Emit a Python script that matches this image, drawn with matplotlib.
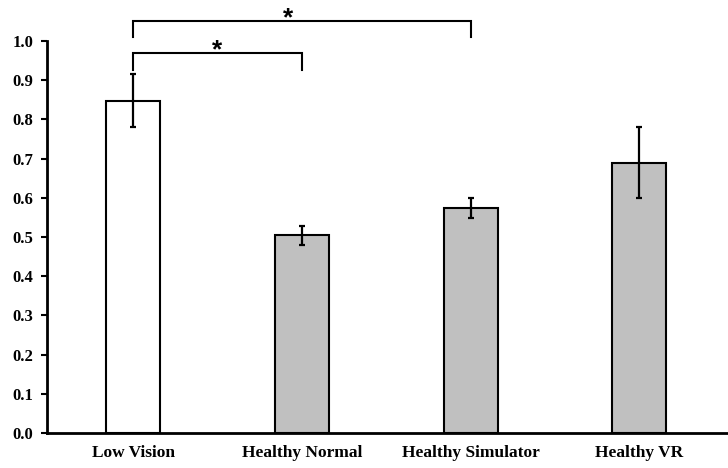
import matplotlib.pyplot as plt
import numpy as np

# Data
groups = ['Low Vision', 'Healthy Normal', 'Healthy Simulator', 'Healthy VR']
means = [0.848, 0.504, 0.574, 0.690]
errors = [0.068, 0.024, 0.025, 0.090]
fills = ['white', '#c0c0c0', '#c0c0c0', '#c0c0c0']
yticks = [0.0, 0.1, 0.2, 0.3, 0.4, 0.5, 0.6, 0.7, 0.8, 0.9, 1.0]

# Significance brackets: (left group, right group, bar height, drop end)
brackets = [(0, 1, 0.969, 0.926), (0, 2, 1.052, 1.010)]

fig = plt.figure(figsize=(7.28, 4.68), dpi=100)
ax = fig.add_axes([0.0646, 0.0748, 0.934, 0.8376])

x = np.arange(len(groups))
ax.bar(x, means, width=0.32, color=fills, edgecolor='black', linewidth=1.5,
       zorder=2)
ax.errorbar(x, means, yerr=errors, fmt='none', ecolor='black', elinewidth=1.6,
            capsize=2.5, capthick=1.6, zorder=3)

for left, right, top, low in brackets:
    ax.plot([left, left, right, right], [low, top, top, low], color='black',
            linewidth=1.5, clip_on=False, solid_joinstyle='miter')
    mid = (left + right) / 2 if right - left == 1 else left + 0.92
    ax.text(mid, top - 0.011, '*', ha='center', va='baseline', fontsize=19,
            family='Liberation Sans', fontweight='bold')

ax.set_xlim(-0.51, 3.52)
ax.set_ylim(0, 1.0)
ax.set_xticks(x)
ax.set_xticklabels(groups)
ax.set_yticks(yticks)
ax.set_yticklabels([f'{v:.1f}' for v in yticks])

for lab in ax.get_xticklabels() + ax.get_yticklabels():
    lab.set_family('Liberation Serif')
    lab.set_fontweight('bold')
ax.tick_params(axis='x', length=0, pad=9, labelsize=12.5)
ax.tick_params(axis='y', length=4, width=1.5, pad=6, labelsize=12)

ax.spines['top'].set_visible(False)
ax.spines['right'].set_visible(False)
ax.spines['left'].set_linewidth(2)
ax.spines['bottom'].set_linewidth(2)

fig.savefig('out.png', dpi=100)
